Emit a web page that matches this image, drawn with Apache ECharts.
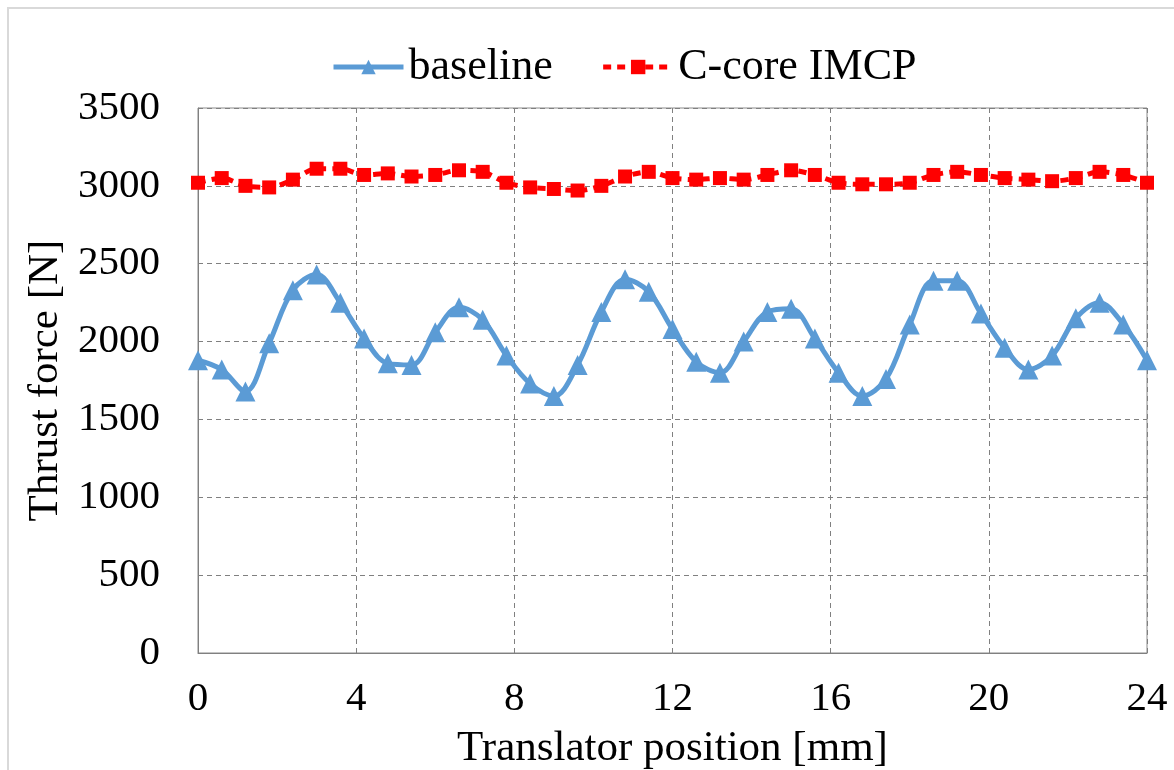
<!DOCTYPE html>
<html>
<head>
<meta charset="utf-8">
<script src="https://cdn.jsdelivr.net/npm/echarts@6/dist/echarts.min.js"></script>
<style>
html,body{margin:0;padding:0;background:#fff;}
#frame{position:absolute;left:7px;top:7px;width:1180px;height:780px;border:2px solid #d9d9d9;}
#chart{position:absolute;left:0;top:0;width:1174px;height:770px;}
</style>
</head>
<body>
<div id="frame"></div>
<div id="chart"></div>
<script>
const positions = [0,0.6,1.2,1.8,2.4,3.0,3.6,4.2,4.8,5.4,6.0,6.6,7.2,7.8,8.4,9.0,9.6,10.2,10.8,11.4,12.0,12.6,13.2,13.8,14.4,15.0,15.6,16.2,16.8,17.4,18.0,18.6,19.2,19.8,20.4,21.0,21.6,22.2,22.8,23.4,24.0];
const baseline = [1880,1820,1680,1990,2330,2430,2250,2020,1860,1850,2060,2220,2140,1910,1730,1650,1850,2190,2400,2320,2080,1870,1800,2000,2190,2210,2020,1800,1650,1760,2110,2390,2390,2180,1960,1820,1910,2150,2250,2110,1880];
const ccore = [3020,3050,3000,2990,3040,3110,3110,3070,3080,3060,3070,3100,3090,3020,2990,2980,2970,3000,3060,3090,3050,3040,3050,3040,3070,3100,3070,3020,3010,3010,3020,3070,3090,3070,3050,3040,3030,3050,3090,3070,3020];
const seriesNames = ['baseline','C-core IMCP'];
const xTitle = 'Translator position [mm]';
const yTitle = 'Thrust force [N]';

const font = 'Liberation Serif, Times New Roman, serif';
const chart = echarts.init(document.getElementById('chart'));
chart.setOption({
  animation:false,
  textStyle:{fontFamily:font,color:'#000'},
  legend:{
    top:40, left:326,
    itemWidth:70, itemHeight:18, itemGap:48,
    lineStyle:{width:5},
    textStyle:{fontFamily:font,fontSize:44,color:'#000'},
    data:seriesNames
  },
  grid:{left:198,right:27,top:108,bottom:117,show:true,borderColor:'#8a8a8a',borderWidth:1,outerBoundsMode:'none',containLabel:false},
  xAxis:{
    type:'value',min:0,max:24,interval:4,
    name:xTitle,nameLocation:'middle',nameGap:74,
    nameTextStyle:{fontFamily:font,fontSize:43,color:'#000'},
    axisLine:{show:true,lineStyle:{color:'#808080',width:1}},
    axisTick:{show:false},
    axisLabel:{fontFamily:font,fontSize:41,color:'#000',margin:26},
    splitLine:{show:true,lineStyle:{color:'#808080',type:[5,4],width:1}}
  },
  yAxis:{
    type:'value',min:0,max:3500,interval:500,
    name:yTitle,nameLocation:'middle',nameGap:131,nameRotate:90,
    nameTextStyle:{fontFamily:font,fontSize:43,color:'#000'},
    axisLine:{show:true,lineStyle:{color:'#808080',width:1}},
    axisTick:{show:false},
    axisLabel:{fontFamily:font,fontSize:41,color:'#000',margin:38,formatter:v=>String(v)},
    splitLine:{show:true,lineStyle:{color:'#808080',type:[5,4],width:1}}
  },
  series:[
    {
      name:seriesNames[0],type:'line',smooth:0.35,
      data:positions.map((x,i)=>[x,baseline[i]]),
      symbol:'triangle',symbolSize:20,
      lineStyle:{color:'#5B9BD5',width:5},
      itemStyle:{color:'#5B9BD5'}
    },
    {
      name:seriesNames[1],type:'line',smooth:0.3,
      data:positions.map((x,i)=>[x,ccore[i]]),
      symbol:'rect',symbolSize:14,
      lineStyle:{color:'#FF0000',width:5,type:[8,6]},
      itemStyle:{color:'#FF0000'}
    }
  ]
});
</script>
</body>
</html>
